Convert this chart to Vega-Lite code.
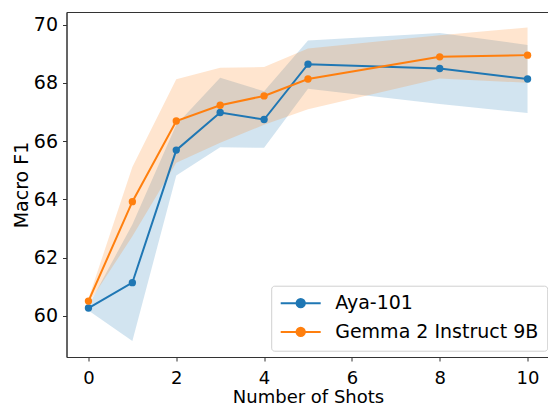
{
  "$schema": "https://vega.github.io/schema/vega-lite/v6.json",
  "autosize": "none",
  "width": 483,
  "height": 345,
  "padding": {"left": 66.5, "top": 12, "right": 0, "bottom": 49},
  "config": {
    "font": "DejaVu Sans",
    "view": {"stroke": "#333", "strokeWidth": 1},
    "axis": {
      "grid": false,
      "labelFontSize": 19,
      "titleFontSize": 19,
      "titleFontWeight": "normal",
      "labelColor": "#000",
      "titleColor": "#000",
      "domainColor": "#333",
      "tickColor": "#333",
      "domainWidth": 1,
      "tickWidth": 1,
      "tickSize": 4
    }
  },
  "data": {
    "values": [
      {"shots": 0, "model": "Aya-101", "f1": 60.27, "lo": 60.19, "hi": 60.35},
      {"shots": 1, "model": "Aya-101", "f1": 61.14, "lo": 59.14, "hi": 63.14},
      {"shots": 2, "model": "Aya-101", "f1": 65.69, "lo": 64.82, "hi": 66.56},
      {"shots": 3, "model": "Aya-101", "f1": 66.98, "lo": 65.79, "hi": 68.17},
      {"shots": 4, "model": "Aya-101", "f1": 66.74, "lo": 65.77, "hi": 67.71},
      {"shots": 5, "model": "Aya-101", "f1": 68.64, "lo": 67.8, "hi": 69.45},
      {"shots": 8, "model": "Aya-101", "f1": 68.49, "lo": 67.27, "hi": 69.71},
      {"shots": 10, "model": "Aya-101", "f1": 68.13, "lo": 66.96, "hi": 69.3},
      {"shots": 0, "model": "Gemma 2 Instruct 9B", "f1": 60.51, "lo": 60.43, "hi": 60.59},
      {"shots": 1, "model": "Gemma 2 Instruct 9B", "f1": 63.92, "lo": 62.73, "hi": 65.11},
      {"shots": 2, "model": "Gemma 2 Instruct 9B", "f1": 66.69, "lo": 65.26, "hi": 68.12},
      {"shots": 3, "model": "Gemma 2 Instruct 9B", "f1": 67.23, "lo": 65.94, "hi": 68.52},
      {"shots": 4, "model": "Gemma 2 Instruct 9B", "f1": 67.55, "lo": 66.56, "hi": 68.54},
      {"shots": 5, "model": "Gemma 2 Instruct 9B", "f1": 68.13, "lo": 67.09, "hi": 69.18},
      {"shots": 8, "model": "Gemma 2 Instruct 9B", "f1": 68.89, "lo": 68.15, "hi": 69.63},
      {"shots": 10, "model": "Gemma 2 Instruct 9B", "f1": 68.95, "lo": 68.0, "hi": 69.9}
    ]
  },
  "encoding": {
    "x": {
      "field": "shots", "type": "quantitative",
      "scale": {"domain": [-0.5, 10.5], "nice": false, "zero": false},
      "axis": {"values": [0, 2, 4, 6, 8, 10], "title": "Number of Shots", "labelFontSize": 18, "titleFontSize": 18, "labelPadding": 8, "titlePadding": 1}
    }
  },
  "layer": [
    {
      "mark": {"type": "area", "opacity": 0.2},
      "encoding": {
        "y": {"field": "lo", "type": "quantitative"},
        "y2": {"field": "hi"},
        "color": {
          "field": "model", "type": "nominal",
          "scale": {"domain": ["Aya-101", "Gemma 2 Instruct 9B"], "range": ["#1f77b4", "#ff7f0e"]},
          "legend": null
        }
      }
    },
    {
      "mark": {"type": "line", "strokeWidth": 2, "point": {"filled": true, "size": 54, "opacity": 1}},
      "encoding": {
        "y": {
          "field": "f1", "type": "quantitative",
          "scale": {"domain": [58.59, 70.43], "nice": false, "zero": false},
          "axis": {"values": [60, 62, 64, 66, 68, 70], "title": "Macro F1", "labelPadding": 5, "titlePadding": 2}
        },
        "color": {
          "field": "model", "type": "nominal",
          "legend": {
            "title": null,
            "orient": "none",
            "legendX": 204.7,
            "legendY": 273.7,
            "symbolType": "M-1,0L4,0M0.98,0A0.52,0.52,0,1,0,2.02,0A0.52,0.52,0,1,0,0.98,0",
            "symbolSize": 256,
            "symbolStrokeWidth": 2,
            "labelFontSize": 19,
            "labelColor": "#000",
            "labelOffset": 37,
            "labelLimit": 0,
            "strokeColor": "#d0d0d0",
            "fillColor": "#ffffff",
            "padding": 8,
            "cornerRadius": 3,
            "rowPadding": 8.7,
            "encode": {
              "symbols": {
                "update": {
                  "fill": {"scale": "color", "field": "value"},
                  "stroke": {"scale": "color", "field": "value"},
                  "opacity": {"value": 1},
                  "fillOpacity": {"value": 1}
                }
              }
            }
          }
        }
      }
    }
  ],
  "resolve": {"legend": {"color": "independent"}}
}
